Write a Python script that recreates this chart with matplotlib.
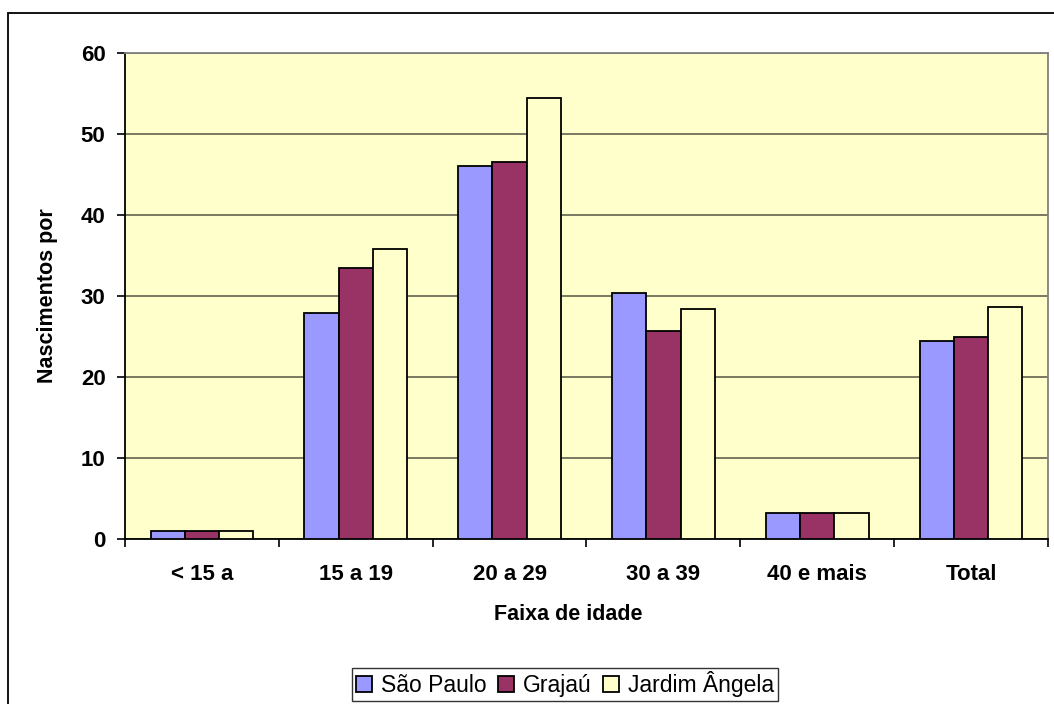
import matplotlib
matplotlib.use("Agg")
import matplotlib.pyplot as plt
import matplotlib.patches as mpatches
import numpy as np

# dados
faixas = ["< 15 a", "15 a 19", "20 a 29", "30 a 39", "40 e mais", "Total"]
sao_paulo = [1.0, 27.9, 46.0, 30.4, 3.2, 24.5]
grajau = [1.0, 33.4, 46.5, 25.7, 3.2, 24.9]
jardim_angela = [1.0, 35.8, 54.4, 28.4, 3.2, 28.6]
series = ["São Paulo", "Grajaú", "Jardim Ângela"]
cores = ["#9999FF", "#993366", "#FFFFCC"]
yticks = [0, 10, 20, 30, 40, 50, 60]

plt.rcParams["font.family"] = ["Liberation Sans", "DejaVu Sans"]

W, H = 1054, 704
fig = plt.figure(figsize=(W/100, H/100), dpi=100)

# moldura do grafico (cortada a direita e embaixo)
fig.patches.append(mpatches.Rectangle((8/W, -0.02), 1.1, (H-13)/H + 0.02, transform=fig.transFigure,
                                      fill=False, edgecolor="black", linewidth=1.3))

ax = fig.add_axes([125/W, (H-539)/H, 923/W, 486/H])
ax.set_facecolor("#FFFFCC")

x = np.arange(len(faixas))
larg = 1/4.5
for i, (vals, cor, nome) in enumerate(zip([sao_paulo, grajau, jardim_angela], cores, series)):
    ax.bar(x + (i-1)*larg, vals, width=larg, color=cor, edgecolor="black", linewidth=1.3, label=nome, zorder=3)

ax.set_xlim(-0.5, len(faixas)-0.5)
ax.set_ylim(0, 60)
ax.set_yticks(yticks)
ax.set_yticklabels([str(t) for t in yticks], fontsize=16, fontweight="bold")
ax.yaxis.grid(True, color="#6e6e5a", linewidth=1.3, zorder=0)
ax.set_axisbelow(True)

ax.set_xticks(x)
ax.set_xticklabels(faixas, fontsize=16, fontweight="bold")
ax.set_xticks(np.arange(-0.5, len(faixas)), minor=True)
ax.tick_params(axis="x", which="major", length=0, pad=18)
ax.tick_params(axis="x", which="minor", length=6, width=1.2, direction="out")
ax.tick_params(axis="y", length=6, width=1.2, direction="out", pad=8)

for s in ["top", "right"]:
    ax.spines[s].set_color("#808080")
    ax.spines[s].set_linewidth(1.3)
for s in ["left", "bottom"]:
    ax.spines[s].set_color("black")
    ax.spines[s].set_linewidth(1.3)

fig.text(568/W, 1 - 614/H, "Faixa de idade", fontsize=15.5, fontweight="bold", ha="center", va="center")
fig.text(48/W, 1 - 296/H, "Nascimentos por", fontsize=15.5, fontweight="bold", ha="center", va="center", rotation=90)

leg = fig.legend(loc="upper center", bbox_to_anchor=(565/W, 1 - 668/H), ncol=3, fontsize=16.5,
                 frameon=True, fancybox=False, edgecolor="black", handlelength=0.7, handleheight=0.7,
                 handletextpad=0.4, columnspacing=0.5, borderpad=0.15, borderaxespad=0)
leg.get_frame().set_linewidth(1.0)

fig.savefig("out.png", dpi=100)
